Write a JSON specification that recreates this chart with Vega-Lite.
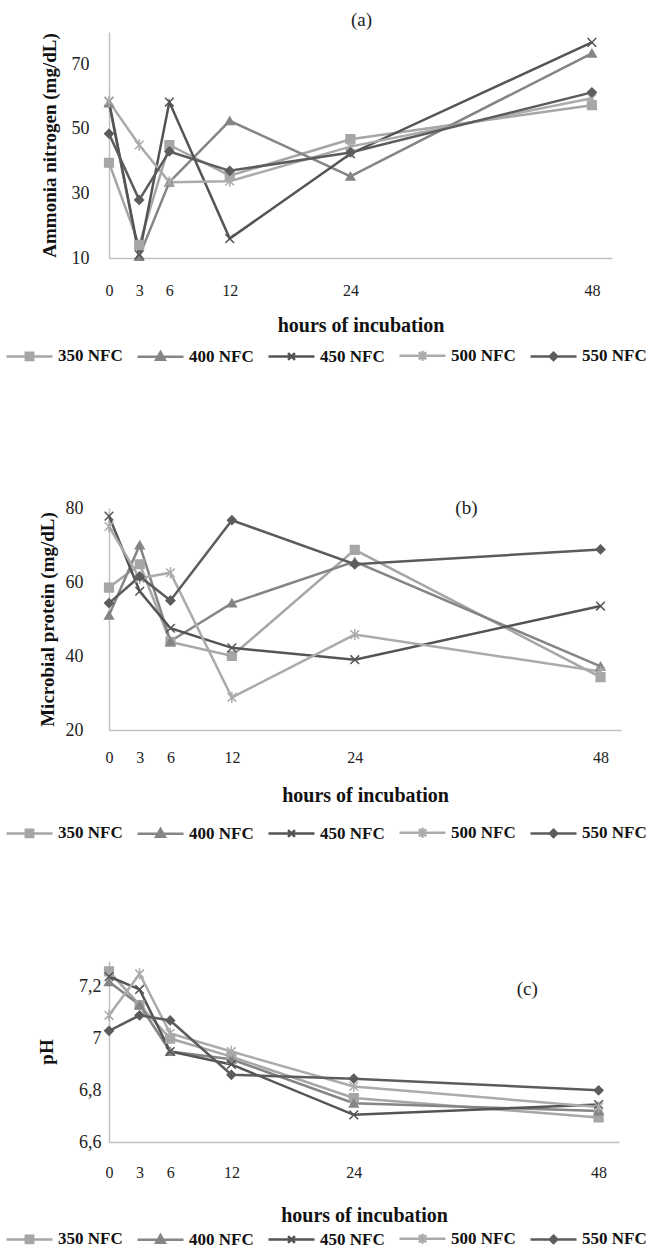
{
  "$schema": "https://vega.github.io/schema/vega-lite/v6.json",
  "padding": {"left": 5, "top": 11, "right": 0, "bottom": 0},
  "background": "white",
  "config": {
    "font": "Liberation Serif",
    "view": {"stroke": null},
    "axis": {
      "grid": false, "ticks": false, "domainColor": "#c0c0c0", "domainWidth": 1.5, "labelOverlap": false, "labelBound": false,
      "labelFont": "Liberation Serif", "labelColor": "#222222",
      "titleFont": "Liberation Serif", "titleFontWeight": "bold", "titleColor": "#111111"
    },
    "axisY": {"labelOverlap": false},
    "axisQuantitative": {"labelOverlap": false},
    "legend": {
      "orient": "none", "direction": "horizontal", "title": null, "columns": 5,
      "symbolSize": 2116, "labelFont": "Liberation Serif", "labelFontSize": 17,
      "labelFontWeight": "bold", "labelColor": "#111111", "labelOffset": 4, "columnPadding": 9,
      "labelLimit": 0
    }
  },
  "datasets": {
    "a": [
      {"h": 0, "s": "350 NFC", "v": 39.5}, {"h": 3, "s": "350 NFC", "v": 14}, {"h": 6, "s": "350 NFC", "v": 45}, {"h": 12, "s": "350 NFC", "v": 35.5}, {"h": 24, "s": "350 NFC", "v": 46.8}, {"h": 48, "s": "350 NFC", "v": 57.3},
      {"h": 0, "s": "400 NFC", "v": 58}, {"h": 3, "s": "400 NFC", "v": 10.5}, {"h": 6, "s": "400 NFC", "v": 33.5}, {"h": 12, "s": "400 NFC", "v": 52.5}, {"h": 24, "s": "400 NFC", "v": 35.3}, {"h": 48, "s": "400 NFC", "v": 73.4},
      {"h": 0, "s": "450 NFC", "v": 58.5}, {"h": 3, "s": "450 NFC", "v": 11}, {"h": 6, "s": "450 NFC", "v": 58.3}, {"h": 12, "s": "450 NFC", "v": 16}, {"h": 24, "s": "450 NFC", "v": 42.3}, {"h": 48, "s": "450 NFC", "v": 76.8},
      {"h": 0, "s": "500 NFC", "v": 58.5}, {"h": 3, "s": "500 NFC", "v": 45}, {"h": 6, "s": "500 NFC", "v": 33.5}, {"h": 12, "s": "500 NFC", "v": 33.8}, {"h": 24, "s": "500 NFC", "v": 44.5}, {"h": 48, "s": "500 NFC", "v": 59.5},
      {"h": 0, "s": "550 NFC", "v": 48.5}, {"h": 3, "s": "550 NFC", "v": 28}, {"h": 6, "s": "550 NFC", "v": 43}, {"h": 12, "s": "550 NFC", "v": 37}, {"h": 24, "s": "550 NFC", "v": 42.7}, {"h": 48, "s": "550 NFC", "v": 61.3}
    ],
    "b": [
      {"h": 0, "s": "350 NFC", "v": 58.5}, {"h": 3, "s": "350 NFC", "v": 64.8}, {"h": 6, "s": "350 NFC", "v": 43.8}, {"h": 12, "s": "350 NFC", "v": 40}, {"h": 24, "s": "350 NFC", "v": 68.7}, {"h": 48, "s": "350 NFC", "v": 34.3},
      {"h": 0, "s": "400 NFC", "v": 51}, {"h": 3, "s": "400 NFC", "v": 70}, {"h": 6, "s": "400 NFC", "v": 44}, {"h": 12, "s": "400 NFC", "v": 54.3}, {"h": 24, "s": "400 NFC", "v": 65.5}, {"h": 48, "s": "400 NFC", "v": 37.2},
      {"h": 0, "s": "450 NFC", "v": 77.8}, {"h": 3, "s": "450 NFC", "v": 57.5}, {"h": 6, "s": "450 NFC", "v": 47.5}, {"h": 12, "s": "450 NFC", "v": 42.2}, {"h": 24, "s": "450 NFC", "v": 39}, {"h": 48, "s": "450 NFC", "v": 53.5},
      {"h": 0, "s": "500 NFC", "v": 75}, {"h": 3, "s": "500 NFC", "v": 61}, {"h": 6, "s": "500 NFC", "v": 62.5}, {"h": 12, "s": "500 NFC", "v": 28.8}, {"h": 24, "s": "500 NFC", "v": 45.8}, {"h": 48, "s": "500 NFC", "v": 35.8},
      {"h": 0, "s": "550 NFC", "v": 54.3}, {"h": 3, "s": "550 NFC", "v": 61.5}, {"h": 6, "s": "550 NFC", "v": 55}, {"h": 12, "s": "550 NFC", "v": 76.7}, {"h": 24, "s": "550 NFC", "v": 64.8}, {"h": 48, "s": "550 NFC", "v": 68.8}
    ],
    "c": [
      {"h": 0, "s": "350 NFC", "v": 7.26}, {"h": 3, "s": "350 NFC", "v": 7.13}, {"h": 6, "s": "350 NFC", "v": 7.0}, {"h": 12, "s": "350 NFC", "v": 6.93}, {"h": 24, "s": "350 NFC", "v": 6.77}, {"h": 48, "s": "350 NFC", "v": 6.695},
      {"h": 0, "s": "400 NFC", "v": 7.22}, {"h": 3, "s": "400 NFC", "v": 7.13}, {"h": 6, "s": "400 NFC", "v": 6.95}, {"h": 12, "s": "400 NFC", "v": 6.92}, {"h": 24, "s": "400 NFC", "v": 6.75}, {"h": 48, "s": "400 NFC", "v": 6.72},
      {"h": 0, "s": "450 NFC", "v": 7.24}, {"h": 3, "s": "450 NFC", "v": 7.19}, {"h": 6, "s": "450 NFC", "v": 6.95}, {"h": 12, "s": "450 NFC", "v": 6.9}, {"h": 24, "s": "450 NFC", "v": 6.705}, {"h": 48, "s": "450 NFC", "v": 6.745},
      {"h": 0, "s": "500 NFC", "v": 7.09}, {"h": 3, "s": "500 NFC", "v": 7.25}, {"h": 6, "s": "500 NFC", "v": 7.02}, {"h": 12, "s": "500 NFC", "v": 6.95}, {"h": 24, "s": "500 NFC", "v": 6.815}, {"h": 48, "s": "500 NFC", "v": 6.735},
      {"h": 0, "s": "550 NFC", "v": 7.03}, {"h": 3, "s": "550 NFC", "v": 7.09}, {"h": 6, "s": "550 NFC", "v": 7.07}, {"h": 12, "s": "550 NFC", "v": 6.86}, {"h": 24, "s": "550 NFC", "v": 6.845}, {"h": 48, "s": "550 NFC", "v": 6.80}
    ]
  },
  "columns": 1,
  "align": "none",
  "spacing": 133,
  "concat": [
    {
      "width": 503, "height": 226,
      "data": {"name": "a"},
      "layer": [
        {
          "mark": {"type": "line", "strokeWidth": 2.5},
          "encoding": {
            "x": {"field": "h", "type": "quantitative", "scale": {"domain": [0, 48]},
              "axis": {"values": [0, 3, 6, 12, 24, 48], "title": "hours of incubation", "labelFontSize": 16, "labelPadding": 24, "titleFontSize": 20, "titlePadding": 17, "labelFlush": false, "labelOverlap": false}},
            "y": {"field": "v", "type": "quantitative", "scale": {"domain": [10, 80]},
              "axis": {"values": [10, 20, 30, 40, 50, 60, 70, 80], "title": "Ammonia nitrogen (mg/dL)", "labelFontSize": 18, "labelPadding": 20, "titleFontSize": 19, "titlePadding": 12, "labelOverlap": false, "labelBound": false}},
            "color": {"field": "s", "type": "nominal", "scale": {"domain": ["350 NFC", "400 NFC", "450 NFC", "500 NFC", "550 NFC"], "range": ["#a6a6a6", "#858585", "#545454", "#ababab", "#5c5c5c"]},
              "legend": {"legendX": -104, "legendY": 299,
                "encode": {"symbols": {"update": {
                  "shape": {"signal": "datum.value==='350 NFC' ? 'M-1,0L1,0M-0.16,-0.16L0.16,-0.16L0.16,0.16L-0.16,0.16Z' : datum.value==='400 NFC' ? 'M-1,0L1,0M0,-0.2L0.19,0.14L-0.19,0.14Z' : datum.value==='450 NFC' ? 'M-1,0L1,0M-0.15,-0.15L0.15,0.15M-0.15,0.15L0.15,-0.15' : datum.value==='500 NFC' ? 'M-1,0L1,0M-0.16,-0.16L0.16,0.16M-0.16,0.16L0.16,-0.16M0,-0.22L0,0.22' : 'M-1,0L1,0M0,-0.16L0.16,0L0,0.16L-0.16,0Z'"},
                  "fill": {"signal": "datum.value==='350 NFC' ? '#a6a6a6' : datum.value==='400 NFC' ? '#858585' : datum.value==='450 NFC' ? '#545454' : datum.value==='500 NFC' ? '#ababab' : '#5c5c5c'"},
                  "strokeWidth": {"value": 2.5}, "opacity": {"value": 1}, "fillOpacity": {"value": 1}, "strokeOpacity": {"value": 1}
                }}}}}
          }
        },
        {
          "mark": {"type": "point", "filled": true, "size": 75, "strokeWidth": 1.5, "opacity": 1},
          "encoding": {
            "x": {"field": "h", "type": "quantitative"},
            "y": {"field": "v", "type": "quantitative"},
            "fill": {"field": "s", "type": "nominal", "scale": {"domain": ["350 NFC", "400 NFC", "450 NFC", "500 NFC", "550 NFC", "fill"], "range": ["#a6a6a6", "#858585", "#545454", "#ababab", "#5c5c5c", "#000000"]}, "legend": null},
            "stroke": {"field": "s", "type": "nominal", "scale": {"domain": ["350 NFC", "400 NFC", "450 NFC", "500 NFC", "550 NFC", "stroke"], "range": ["#a6a6a6", "#858585", "#545454", "#ababab", "#5c5c5c", "#000000"]}, "legend": null},
            "shape": {"field": "s", "type": "nominal", "scale": {"domain": ["350 NFC", "400 NFC", "450 NFC", "500 NFC", "550 NFC", "shape"], "range": ["square", "triangle-up", "M-1,-1L1,1M-1,1L1,-1", "M-1,-1L1,1M-1,1L1,-1M0,-1.3L0,1.3", "diamond", "circle"]}, "legend": null}
          }
        },
        {
          "data": {"values": [{}]},
          "mark": {"type": "text", "fontSize": 19, "font": "Liberation Serif", "color": "#222222"},
          "encoding": {"x": {"datum": 25.1}, "y": {"datum": 83.7}, "text": {"value": "(a)"}}
        }
      ]
    },
    {
      "columns": 1,
      "align": "none",
      "spacing": 118,
      "concat": [
        {
          "width": 512, "height": 222,
          "data": {"name": "b"},
          "layer": [
            {
              "mark": {"type": "line", "strokeWidth": 2.5},
              "encoding": {
                "x": {"field": "h", "type": "quantitative", "scale": {"domain": [0, 48]},
                  "axis": {"values": [0, 3, 6, 12, 24, 48], "title": "hours of incubation", "labelFontSize": 16, "labelPadding": 19, "titleFontSize": 20, "titlePadding": 20, "labelFlush": false, "labelOverlap": false}},
                "y": {"field": "v", "type": "quantitative", "scale": {"domain": [20, 80]},
                  "axis": {"values": [20, 30, 40, 50, 60, 70, 80], "title": "Microbial protein (mg/dL)", "labelFontSize": 18, "labelPadding": 26, "titleFontSize": 19, "titlePadding": 8, "labelOverlap": false, "labelBound": false}},
                "color": {"field": "s", "type": "nominal", "scale": {"domain": ["350 NFC", "400 NFC", "450 NFC", "500 NFC", "550 NFC"], "range": ["#a6a6a6", "#858585", "#545454", "#ababab", "#5c5c5c"]},
                  "legend": {"legendX": -104, "legendY": 300,
                    "encode": {"symbols": {"update": {
                      "shape": {"signal": "datum.value==='350 NFC' ? 'M-1,0L1,0M-0.16,-0.16L0.16,-0.16L0.16,0.16L-0.16,0.16Z' : datum.value==='400 NFC' ? 'M-1,0L1,0M0,-0.2L0.19,0.14L-0.19,0.14Z' : datum.value==='450 NFC' ? 'M-1,0L1,0M-0.15,-0.15L0.15,0.15M-0.15,0.15L0.15,-0.15' : datum.value==='500 NFC' ? 'M-1,0L1,0M-0.16,-0.16L0.16,0.16M-0.16,0.16L0.16,-0.16M0,-0.22L0,0.22' : 'M-1,0L1,0M0,-0.16L0.16,0L0,0.16L-0.16,0Z'"},
                      "fill": {"signal": "datum.value==='350 NFC' ? '#a6a6a6' : datum.value==='400 NFC' ? '#858585' : datum.value==='450 NFC' ? '#545454' : datum.value==='500 NFC' ? '#ababab' : '#5c5c5c'"},
                      "strokeWidth": {"value": 2.5}, "opacity": {"value": 1}, "fillOpacity": {"value": 1}, "strokeOpacity": {"value": 1}
                    }}}}}
              }
            },
            {
              "mark": {"type": "point", "filled": true, "size": 75, "strokeWidth": 1.5, "opacity": 1},
              "encoding": {
                "x": {"field": "h", "type": "quantitative"},
                "y": {"field": "v", "type": "quantitative"},
                "fill": {"field": "s", "type": "nominal", "scale": {"domain": ["350 NFC", "400 NFC", "450 NFC", "500 NFC", "550 NFC", "fill"], "range": ["#a6a6a6", "#858585", "#545454", "#ababab", "#5c5c5c", "#000000"]}, "legend": null},
                "stroke": {"field": "s", "type": "nominal", "scale": {"domain": ["350 NFC", "400 NFC", "450 NFC", "500 NFC", "550 NFC", "stroke"], "range": ["#a6a6a6", "#858585", "#545454", "#ababab", "#5c5c5c", "#000000"]}, "legend": null},
                "shape": {"field": "s", "type": "nominal", "scale": {"domain": ["350 NFC", "400 NFC", "450 NFC", "500 NFC", "550 NFC", "shape"], "range": ["square", "triangle-up", "M-1,-1L1,1M-1,1L1,-1", "M-1,-1L1,1M-1,1L1,-1M0,-1.3L0,1.3", "diamond", "circle"]}, "legend": null}
              }
            },
            {
              "data": {"values": [{}]},
              "mark": {"type": "text", "fontSize": 19, "font": "Liberation Serif", "color": "#222222"},
              "encoding": {"x": {"datum": 34.9}, "y": {"datum": 80}, "text": {"value": "(b)"}}
            }
          ]
        },
        {
          "width": 510, "height": 181,
          "data": {"name": "c"},
          "layer": [
            {
              "mark": {"type": "line", "strokeWidth": 2.5},
              "encoding": {
                "x": {"field": "h", "type": "quantitative", "scale": {"domain": [0, 48]},
                  "axis": {"values": [0, 3, 6, 12, 24, 48], "title": "hours of incubation", "labelFontSize": 16, "labelPadding": 22, "titleFontSize": 20, "titlePadding": 25, "labelFlush": false, "labelOverlap": false}},
                "y": {"field": "v", "type": "quantitative", "scale": {"domain": [6.6, 7.3]},
                  "axis": {"values": [6.6, 6.7, 6.8, 6.9, 7.0, 7.1, 7.2, 7.3], "labelExpr": "replace(format(datum.value, '.2~f'), '.', ',')", "title": "pH", "labelFontSize": 18, "labelPadding": 8, "titleFontSize": 19, "titlePadding": 22, "labelOverlap": false, "labelBound": false}},
                "color": {"field": "s", "type": "nominal", "scale": {"domain": ["350 NFC", "400 NFC", "450 NFC", "500 NFC", "550 NFC"], "range": ["#a6a6a6", "#858585", "#545454", "#ababab", "#5c5c5c"]},
                  "legend": {"legendX": -104, "legendY": 253,
                    "encode": {"symbols": {"update": {
                      "shape": {"signal": "datum.value==='350 NFC' ? 'M-1,0L1,0M-0.16,-0.16L0.16,-0.16L0.16,0.16L-0.16,0.16Z' : datum.value==='400 NFC' ? 'M-1,0L1,0M0,-0.2L0.19,0.14L-0.19,0.14Z' : datum.value==='450 NFC' ? 'M-1,0L1,0M-0.15,-0.15L0.15,0.15M-0.15,0.15L0.15,-0.15' : datum.value==='500 NFC' ? 'M-1,0L1,0M-0.16,-0.16L0.16,0.16M-0.16,0.16L0.16,-0.16M0,-0.22L0,0.22' : 'M-1,0L1,0M0,-0.16L0.16,0L0,0.16L-0.16,0Z'"},
                      "fill": {"signal": "datum.value==='350 NFC' ? '#a6a6a6' : datum.value==='400 NFC' ? '#858585' : datum.value==='450 NFC' ? '#545454' : datum.value==='500 NFC' ? '#ababab' : '#5c5c5c'"},
                      "strokeWidth": {"value": 2.5}, "opacity": {"value": 1}, "fillOpacity": {"value": 1}, "strokeOpacity": {"value": 1}
                    }}}}}
              }
            },
            {
              "mark": {"type": "point", "filled": true, "size": 75, "strokeWidth": 1.5, "opacity": 1},
              "encoding": {
                "x": {"field": "h", "type": "quantitative"},
                "y": {"field": "v", "type": "quantitative"},
                "fill": {"field": "s", "type": "nominal", "scale": {"domain": ["350 NFC", "400 NFC", "450 NFC", "500 NFC", "550 NFC", "fill"], "range": ["#a6a6a6", "#858585", "#545454", "#ababab", "#5c5c5c", "#000000"]}, "legend": null},
                "stroke": {"field": "s", "type": "nominal", "scale": {"domain": ["350 NFC", "400 NFC", "450 NFC", "500 NFC", "550 NFC", "stroke"], "range": ["#a6a6a6", "#858585", "#545454", "#ababab", "#5c5c5c", "#000000"]}, "legend": null},
                "shape": {"field": "s", "type": "nominal", "scale": {"domain": ["350 NFC", "400 NFC", "450 NFC", "500 NFC", "550 NFC", "shape"], "range": ["square", "triangle-up", "M-1,-1L1,1M-1,1L1,-1", "M-1,-1L1,1M-1,1L1,-1M0,-1.3L0,1.3", "diamond", "circle"]}, "legend": null}
              }
            },
            {
              "data": {"values": [{}]},
              "mark": {"type": "text", "fontSize": 19, "font": "Liberation Serif", "color": "#222222"},
              "encoding": {"x": {"datum": 41}, "y": {"datum": 7.19}, "text": {"value": "(c)"}}
            }
          ]
        }
      ],
      "resolve": {"scale": {"color": "independent", "fill": "independent", "shape": "independent", "stroke": "independent"}, "legend": {"color": "independent"}}
    }
  ],
  "resolve": {"scale": {"color": "independent", "fill": "independent", "shape": "independent", "stroke": "independent"}, "legend": {"color": "independent"}}
}
